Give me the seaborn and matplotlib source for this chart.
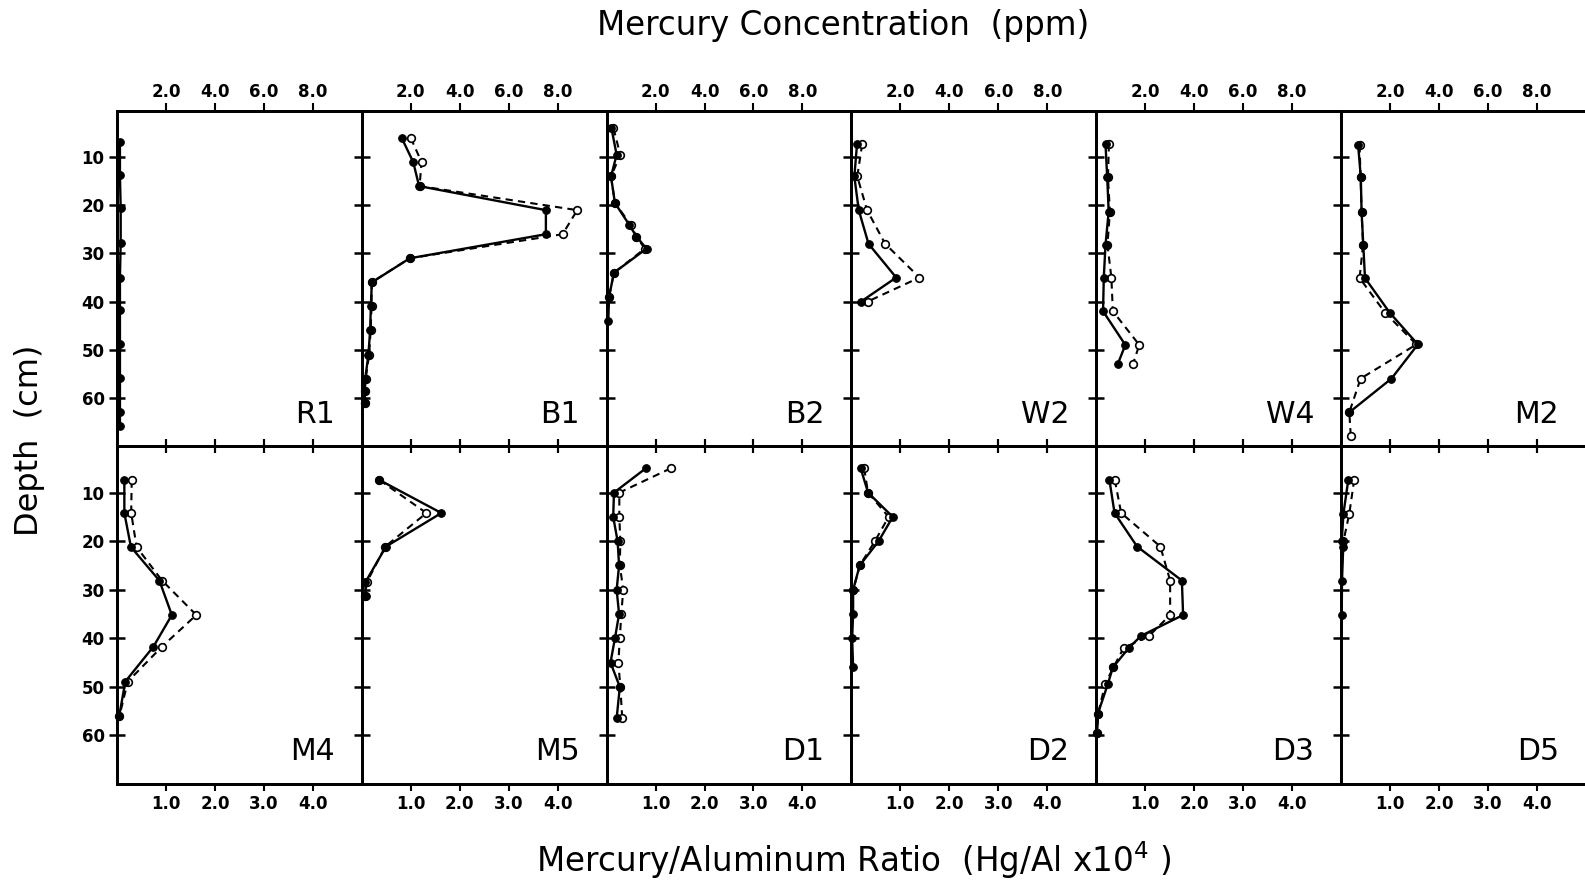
import numpy as np
import pandas as pd
import matplotlib
matplotlib.use("Agg")
import matplotlib.pyplot as plt
import seaborn as sns

# ---------------- data ----------------
TOP_ROW = ["R1", "B1", "B2", "W2", "W4", "M2"]
BOTTOM_ROW = ["M4", "M5", "D1", "D2", "D3", "D5"]

PPM_TICKS = [2.0, 4.0, 6.0, 8.0]
RATIO_TICKS = [1.0, 2.0, 3.0, 4.0]
DEPTH_TICKS = [10, 20, 30, 40, 50, 60]

# depth (cm), Hg concentration (ppm, filled dots / solid), Hg/Al x1e4 (open dots / dashed)
R1_depth = [6.8, 13.7, 20.6, 27.9, 35.0, 41.8, 48.9, 55.8, 62.9, 65.8]
R1_hg = [0.12, 0.12, 0.15, 0.15, 0.12, 0.12, 0.12, 0.12, 0.12, 0.12]
R1_ratio = [None, None, None, None, None, None, None, None, None, None]

B1_depth = [6, 11, 16, 21, 26, 31, 36, 41, 46, 51, 56, 58.5, 61]
B1_hg = [1.63, 2.1, 2.34, 7.52, 7.52, 1.96, 0.41, 0.37, 0.34, 0.27, 0.14, 0.12, 0.12]
B1_ratio = [1.0, 1.22, 1.18, 4.4, 4.1, 0.98, 0.2, 0.2, 0.18, 0.15, 0.08, 0.06, 0.06]

B2_depth = [4, 9.5, 14, 19.5, 24, 26.5, 29, 34, 39, 44]
B2_hg = [0.2, 0.41, 0.18, 0.34, 0.92, 1.22, 1.63, 0.3, 0.1, 0.07]
B2_ratio = [0.14, 0.28, 0.09, 0.17, 0.49, 0.61, 0.78, 0.15, 0.05, None]

W2_depth = [7.3, 14, 21, 28, 35, 40]
W2_hg = [0.23, 0.12, 0.3, 0.7, 1.83, 0.39]
W2_ratio = [0.22, 0.12, 0.32, 0.69, 1.39, 0.33]

W4_depth = [7.3, 14.2, 21.3, 28.2, 35, 42, 49, 53]
W4_hg = [0.38, 0.45, 0.51, 0.38, 0.31, 0.28, 1.19, 0.88]
W4_ratio = [0.26, 0.24, 0.28, 0.23, 0.31, 0.34, 0.88, 0.75]

M2_depth = [7.5, 14.2, 21.3, 28.2, 35.1, 42.3, 48.9, 56, 63, 68]
M2_hg = [0.7, 0.81, 0.84, 0.91, 0.98, 1.99, 3.14, 2.06, 0.34, None]
M2_ratio = [0.38, 0.4, 0.42, 0.45, 0.38, 0.9, 1.54, 0.4, 0.17, 0.2]

M4_depth = [7.5, 14.2, 21.2, 28.1, 35.2, 41.7, 48.9, 56]
M4_hg = [0.3, 0.3, 0.57, 1.73, 2.24, 1.49, 0.34, 0.09]
M4_ratio = [0.3, 0.29, 0.4, 0.92, 1.62, 0.92, 0.22, 0.05]

M5_depth = [7.4, 14.2, 21.1, 28.5, 31.2]
M5_hg = [0.72, 3.25, 0.99, 0.14, 0.16]
M5_ratio = [0.36, 1.32, 0.48, 0.1, 0.07]

D1_depth = [5, 10, 15, 20, 25, 30, 35, 40, 45, 50, 56.5]
D1_hg = [1.6, 0.3, 0.27, 0.45, 0.51, 0.41, 0.51, 0.34, 0.16, 0.54, 0.41]
D1_ratio = [1.31, 0.26, 0.26, 0.28, 0.27, 0.34, 0.3, 0.27, 0.24, 0.28, 0.32]

D2_depth = [5, 10, 15, 20, 25, 30, 35, 40, 46]
D2_hg = [0.38, 0.68, 1.69, 1.11, 0.34, 0.07, 0.07, 0.03, 0.07]
D2_ratio = [0.26, 0.34, 0.76, 0.48, 0.17, 0.04, None, None, None]

D3_depth = [7.4, 14.2, 21.1, 28.1, 35.2, 39.5, 42, 46, 49.5, 55.5, 59.5]
D3_hg = [0.54, 0.75, 1.67, 3.5, 3.55, 1.83, 1.33, 0.68, 0.47, 0.07, 0.04]
D3_ratio = [0.38, 0.51, 1.31, 1.51, 1.51, 1.08, 0.56, 0.35, 0.18, 0.04, 0.02]

D5_depth = [7.3, 14.3, 20, 21.2, 28.3, 35.3]
D5_hg = [0.3, 0.1, 0.03, 0.09, 0.04, 0.03]
D5_ratio = [0.27, 0.17, 0.05, None, None, None]

SITE_DATA = {
    "R1": (R1_depth, R1_hg, R1_ratio), "B1": (B1_depth, B1_hg, B1_ratio),
    "B2": (B2_depth, B2_hg, B2_ratio), "W2": (W2_depth, W2_hg, W2_ratio),
    "W4": (W4_depth, W4_hg, W4_ratio), "M2": (M2_depth, M2_hg, M2_ratio),
    "M4": (M4_depth, M4_hg, M4_ratio), "M5": (M5_depth, M5_hg, M5_ratio),
    "D1": (D1_depth, D1_hg, D1_ratio), "D2": (D2_depth, D2_hg, D2_ratio),
    "D3": (D3_depth, D3_hg, D3_ratio), "D5": (D5_depth, D5_hg, D5_ratio),
}

# ---------------- style ----------------
sns.set_theme(style="ticks")
plt.rcParams["font.family"] = ["DejaVu Sans"]
for k in ("text.color", "axes.labelcolor", "xtick.color", "ytick.color",
          "axes.edgecolor"):
    plt.rcParams[k] = "black"

W, H = 1585, 889
fig = plt.figure(figsize=(W / 100, H / 100), dpi=100)
fig.patch.set_facecolor("white")

PANEL_LEFT = 117
PANEL_W = 244.8
ROW_BOX = [(111, 446), (446, 784)]  # pixel top/bottom of each row

SPINE_W = 2.0
TICK_FS = 12


def panel(row, col, site):
    top, bot = ROW_BOX[row]
    left = PANEL_LEFT + col * PANEL_W
    ax = fig.add_axes([left / W, 1 - bot / H, PANEL_W / W, (bot - top) / H])
    ax2 = ax.twiny()
    depth, hg, ratio = SITE_DATA[site]
    df = pd.DataFrame({"depth": depth, "hg": hg, "ratio": ratio}).astype(float)

    d_ratio = df.dropna(subset=["ratio"])
    if len(d_ratio):
        sns.lineplot(data=d_ratio, x="ratio", y="depth", orient="y", sort=False,
                     estimator=None, ax=ax, color="black", lw=1.5,
                     linestyle=(0, (3.5, 2.5)), marker="o", markersize=5.5,
                     markerfacecolor="white", markeredgecolor="black",
                     markeredgewidth=1.2, clip_on=False, zorder=3)
    d_hg = df.dropna(subset=["hg"])
    sns.lineplot(data=d_hg, x="hg", y="depth", orient="y", sort=False,
                 estimator=None, ax=ax2, color="black", lw=1.7,
                 marker="o", markersize=5.5, markerfacecolor="black",
                 markeredgecolor="black", clip_on=False, zorder=3)

    ax.set_xlim(0, 5)
    ax2.set_xlim(0, 10)
    ax.set_ylim(70, 0.4)
    for a in (ax, ax2):
        a.set_xlabel("")
        a.set_ylabel("")
        for s in a.spines.values():
            s.set_linewidth(SPINE_W)
            s.set_color("black")
            s.set_visible(True)
    ax.set_facecolor("none")

    ax.set_yticks(DEPTH_TICKS)
    ax.tick_params(axis="y", direction="inout", length=12, width=1.8, pad=3,
                   labelsize=TICK_FS, left=True, right=False)
    if col == 0:
        ax.set_yticklabels([f"{t}" for t in DEPTH_TICKS], fontweight="bold")
    else:
        ax.set_yticklabels([])

    ax.set_xticks(RATIO_TICKS)
    ax2.set_xticks(PPM_TICKS)
    if row == 0:
        ax2.set_xticklabels([f"{t:.1f}" for t in PPM_TICKS], fontweight="bold")
        ax2.tick_params(axis="x", direction="out", length=6, width=1.5, pad=1,
                        labelsize=TICK_FS)
        ax.tick_params(axis="x", direction="inout", length=10, width=1.5,
                       labelbottom=False)
    else:
        ax2.set_xticklabels([])
        ax2.tick_params(axis="x", direction="inout", length=10, width=1.5)
        ax.set_xticklabels([f"{t:.1f}" for t in RATIO_TICKS], fontweight="bold")
        ax.tick_params(axis="x", direction="out", length=5, width=1.5, pad=3,
                       labelsize=TICK_FS)

    ax.text(0.89, 0.07, site, transform=ax.transAxes, ha="right",
            va="baseline", fontsize=21.5, color="black")


for c, s in enumerate(TOP_ROW):
    panel(0, c, s)
for c, s in enumerate(BOTTOM_ROW):
    panel(1, c, s)

fig.text(843 / W, 1 - 25 / H, "Mercury Concentration  (ppm)", ha="center",
         va="center", fontsize=23.5)
fig.text(854 / W, 1 - 860 / H, r"Mercury/Aluminum Ratio  (Hg/Al x10$^{4}$ )",
         ha="center", va="center", fontsize=23.5)
fig.text(30 / W, 1 - 440 / H, "Depth  (cm)", ha="center", va="center",
         rotation=90, fontsize=23)

fig.savefig("out.png", dpi=100, facecolor="white")
